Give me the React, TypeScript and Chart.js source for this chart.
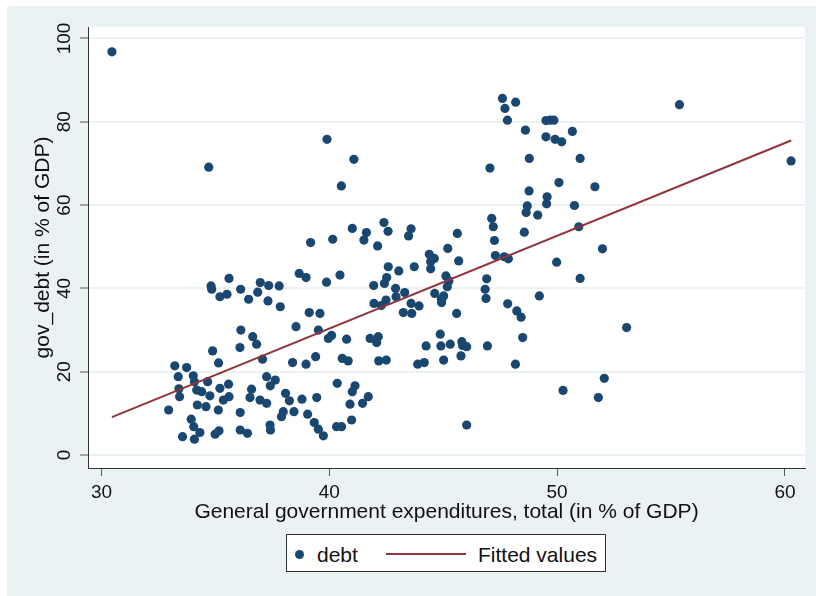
import React, { useEffect, useRef } from "react";
import { Chart, registerables } from "chart.js";

Chart.register(...registerables);

// General government expenditures, total (in % of GDP)
const expenditure = [
  35.60, 34.81, 34.84, 35.20, 35.51, 36.11, 36.46, 36.86, 36.97, 37.34,
  37.31, 37.80, 37.85, 36.12, 36.08, 36.64, 36.81, 34.88, 35.14, 37.07,
  33.22, 33.74, 33.37, 34.03, 34.08, 34.66, 34.18, 33.40, 33.43, 34.40,
  34.76, 35.20, 35.58, 35.60, 35.35, 35.13, 34.21, 34.59, 32.95, 33.94,
  34.05, 33.56, 34.08, 34.32, 34.99, 35.16, 36.09, 36.09, 36.41, 36.59,
  36.52, 36.96, 37.25, 37.25, 37.63, 37.41, 37.40, 37.42, 37.90,
  39.18, 40.15, 41.01, 41.63, 41.52, 42.12, 42.40, 42.58, 43.59, 43.48,
  45.62, 45.20, 44.39, 44.61, 44.45, 44.45, 45.68, 43.73, 43.05, 42.59,
  42.52, 42.42, 41.95, 42.91, 43.31, 42.93, 42.49, 41.96, 42.28, 43.25,
  43.59, 43.94, 43.62, 44.63, 44.92, 45.02, 45.12, 45.25, 45.18, 45.59,
  38.68, 38.98, 39.88, 40.47, 39.12, 39.59, 38.54, 39.52, 40.10, 39.96,
  40.76, 41.79, 42.15, 42.08, 44.87, 44.25, 44.90, 45.31, 45.82, 46.03,
  45.78, 45.02, 38.39, 38.98, 39.40, 40.57, 40.83, 42.17, 42.50, 43.88,
  44.17, 40.35, 41.13, 41.01, 41.71, 41.46, 40.91, 38.08, 38.25, 38.80,
  39.45, 37.98, 38.45, 39.05, 39.34, 39.52, 39.74, 40.32, 40.54, 40.98,
  46.03, 44.93, 45.85,
  47.60, 48.18, 47.71, 47.82, 49.51, 49.69, 49.86, 48.61, 49.51, 49.91,
  50.20, 50.67, 48.78, 51.01, 47.05, 48.77, 50.08, 51.66, 49.56, 49.54,
  48.69, 48.64, 49.15, 50.76, 47.13, 47.20, 48.56, 50.95, 47.25, 47.29,
  47.68, 47.86, 49.98, 51.99, 51.01, 46.91, 46.84, 46.88, 47.83, 48.23,
  48.42, 49.22, 48.49, 46.94, 48.17, 53.05, 52.07, 51.81, 50.26,
  55.37, 60.27, 30.46, 34.71, 39.90, 40.53, 41.08,
];

// gov_debt (in % of GDP)
const debt = [
  42.4, 40.6, 39.8, 38.0, 38.6, 39.8, 37.4, 39.1, 41.4, 40.7,
  37.0, 40.6, 35.6, 30.0, 25.8, 28.4, 26.6, 25.0, 22.1, 23.0,
  21.4, 21.0, 18.8, 19.0, 17.6, 17.6, 15.6, 15.9, 14.0, 15.2,
  14.2, 16.0, 17.0, 14.0, 13.2, 10.8, 12.0, 11.6, 10.8, 8.6,
  6.8, 4.4, 3.8, 5.4, 5.0, 5.8, 10.2, 6.0, 5.2, 15.8,
  13.8, 13.2, 12.4, 18.8, 18.0, 16.6, 7.2, 6.0, 9.2,
  51.0, 51.8, 54.4, 53.4, 51.6, 50.2, 55.8, 53.7, 54.3, 52.6,
  53.2, 49.6, 48.2, 47.2, 44.7, 46.4, 46.6, 45.2, 44.2, 45.2,
  42.6, 41.2, 40.7, 40.0, 39.0, 38.0, 37.2, 36.4, 35.9, 34.2,
  36.4, 35.8, 34.0, 38.8, 37.4, 38.2, 43.0, 41.8, 40.4, 34.0,
  43.6, 42.6, 41.5, 43.2, 34.2, 34.0, 30.8, 30.0, 28.7, 28.0,
  27.8, 28.0, 28.4, 27.0, 29.0, 26.2, 26.2, 26.6, 27.2, 26.0,
  23.8, 22.8, 22.2, 21.8, 23.6, 23.2, 22.6, 22.6, 22.8, 21.8,
  22.2, 17.2, 16.6, 15.2, 14.0, 12.4, 12.2, 14.8, 13.0, 13.4,
  13.8, 10.4, 10.4, 9.8, 7.8, 6.2, 4.6, 6.8, 6.8, 8.4,
  7.2, 36.6, 26.3,
  85.6, 84.7, 83.2, 80.4, 80.3, 80.4, 80.4, 78.0, 76.4, 75.8,
  75.2, 77.7, 71.2, 71.2, 68.9, 63.4, 65.4, 64.4, 62.0, 60.3,
  59.8, 58.2, 57.6, 59.9, 56.8, 54.8, 53.5, 54.8, 51.5, 47.9,
  47.6, 47.1, 46.3, 49.5, 42.4, 42.3, 39.8, 37.6, 36.3, 34.6,
  33.1, 38.2, 28.2, 26.2, 21.8, 30.6, 18.4, 13.8, 15.5,
  84.1, 70.6, 96.8, 69.1, 75.8, 64.6, 71.0,
];

// Fitted values (linear fit) end points
const fittedX = [30.46, 60.27];
const fittedY = [9.1, 75.5];

const xTicks = [30, 40, 50, 60];
const yTicks = [0, 20, 40, 60, 80, 100];
const seriesLabels = ["debt", "Fitted values"];
const xTitle = "General government expenditures, total (in % of GDP)";
const yTitle = "gov_debt (in % of GDP)";

const FONT = "'Liberation Sans', Arial, Helvetica, sans-serif";
const NAVY = "#1a476f";
const MAROON = "#90353b";
const BG = "#eaf2f3";

const bgPlugin = {
  id: "stataBg",
  beforeDraw(chart: any) {
    const { ctx, chartArea: a, width, height } = chart;
    ctx.save();
    ctx.fillStyle = "#ffffff";
    ctx.fillRect(0, 0, width, height);
    ctx.fillStyle = BG;
    ctx.fillRect(7, 6, width - 7, height - 6);
    ctx.fillStyle = "#ffffff";
    ctx.fillRect(a.left, a.top, a.right - a.left, a.bottom - a.top);
    ctx.restore();
  },
};

export default function App() {
  const ref = useRef<HTMLCanvasElement | null>(null);

  useEffect(() => {
    if (!ref.current) return;
    const chart = new Chart(ref.current, {
      type: "scatter",
      data: {
        datasets: [
          {
            type: "scatter",
            label: seriesLabels[0],
            data: expenditure.map((x, i) => ({ x, y: debt[i] })),
            backgroundColor: NAVY,
            borderColor: NAVY,
            borderWidth: 0,
            pointRadius: 4.6,
            pointHoverRadius: 4.6,
            order: 2,
          },
          {
            type: "line",
            label: seriesLabels[1],
            data: fittedX.map((x, i) => ({ x, y: fittedY[i] })),
            borderColor: MAROON,
            backgroundColor: MAROON,
            borderWidth: 2,
            pointRadius: 0,
            fill: false,
            showLine: true,
            order: 1,
          },
        ],
      } as any,
      options: {
        responsive: false,
        animation: false,
        layout: { padding: { left: 0, top: 27, right: 11, bottom: 0 } },
        plugins: { legend: { display: false }, tooltip: { enabled: false } },
        scales: {
          x: {
            type: "linear",
            position: "bottom",
            min: 29.41,
            max: 60.88,
            afterBuildTicks: (s: any) => {
              s.ticks = xTicks.map((v) => ({ value: v }));
            },
            afterFit: (s: any) => {
              s.height = 128;
            },
            grid: {
              display: true,
              drawOnChartArea: false,
              drawTicks: true,
              tickLength: 8,
              tickColor: "#555",
              tickWidth: 1,
            },
            border: { display: true, color: "#333", width: 1 },
            ticks: {
              autoSkip: false,
              maxRotation: 0,
              minRotation: 0,
              padding: 5,
              color: "#111",
              font: { family: FONT, size: 19 },
            },
            title: {
              display: true,
              text: xTitle,
              color: "#111",
              font: { family: FONT, size: 21 },
              padding: { top: 0, bottom: 71 },
            },
          },
          y: {
            type: "linear",
            position: "left",
            min: -3.12,
            max: 102.76,
            afterBuildTicks: (s: any) => {
              s.ticks = yTicks.map((v) => ({ value: v }));
            },
            afterFit: (s: any) => {
              s.width = 88;
            },
            grid: {
              display: true,
              color: BG,
              lineWidth: 2,
              drawTicks: true,
              tickLength: 8,
              tickColor: "#555",
              tickWidth: 1,
            },
            border: { display: true, color: "#333", width: 1 },
            ticks: {
              autoSkip: false,
              minRotation: 90,
              maxRotation: 90,
              crossAlign: "center",
              padding: -1,
              color: "#111",
              font: { family: FONT, size: 19 },
            },
            title: {
              display: true,
              text: yTitle,
              color: "#111",
              font: { family: FONT, size: 21 },
              padding: { top: 31, bottom: 0 },
            },
          },
        },
      } as any,
      plugins: [bgPlugin],
    });
    return () => chart.destroy();
  }, []);

  const textStyle: React.CSSProperties = {
    position: "absolute",
    top: 9,
    lineHeight: "21px",
    fontSize: 21,
    whiteSpace: "nowrap",
  };

  return (
    <div style={{ position: "absolute", left: 0, top: 0, width: 816, height: 596 }}>
      <canvas ref={ref} width={816} height={596} style={{ display: "block" }} />
      <div
        style={{
          position: "absolute",
          left: 286,
          top: 534,
          width: 320,
          height: 38,
          boxSizing: "border-box",
          border: "1px solid #333",
          background: "#fff",
          fontFamily: FONT,
          color: "#111",
        }}
      >
        <span
          style={{
            position: "absolute",
            left: 7.5,
            top: 14.8,
            width: 9,
            height: 9,
            borderRadius: "50%",
            background: NAVY,
          }}
        />
        <span style={{ ...textStyle, left: 30 }}>{seriesLabels[0]}</span>
        <span
          style={{
            position: "absolute",
            left: 99,
            top: 17.7,
            width: 80,
            height: 2,
            background: MAROON,
          }}
        />
        <span style={{ ...textStyle, left: 191 }}>{seriesLabels[1]}</span>
      </div>
    </div>
  );
}
